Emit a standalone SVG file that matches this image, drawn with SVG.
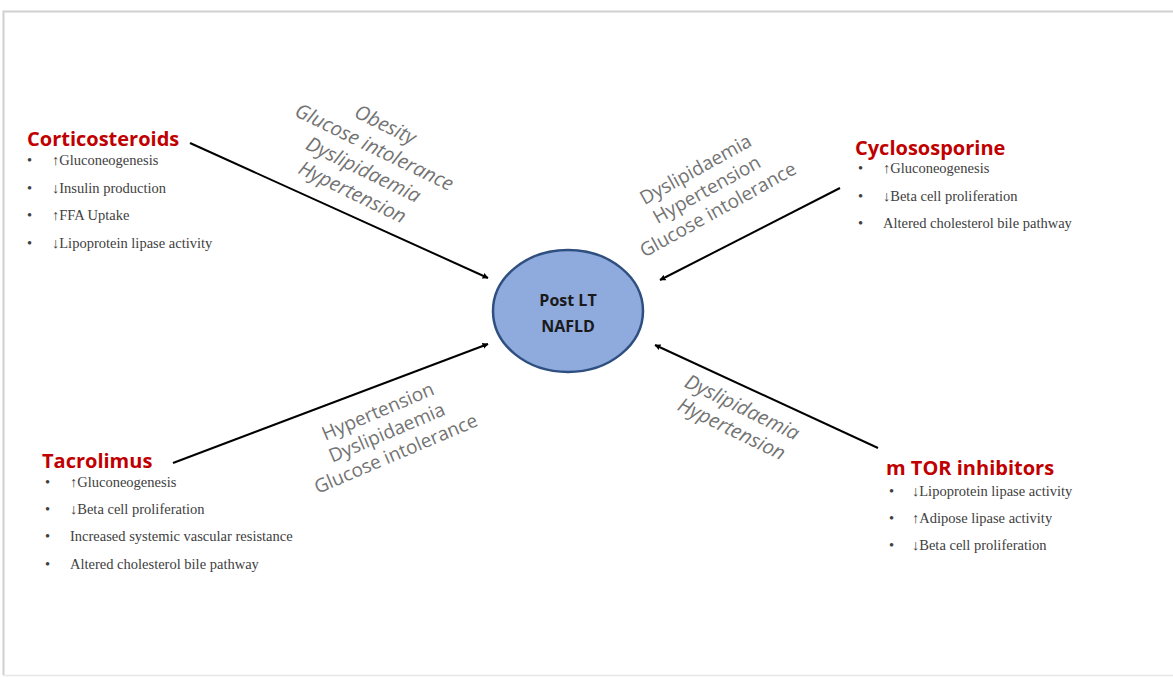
<svg xmlns="http://www.w3.org/2000/svg" width="1173" height="677" viewBox="0 0 1173 677">
<style>
.title{font-family:"Open Sans","Liberation Sans",sans-serif;font-weight:bold;font-size:20px;fill:#c00000}
.item{font-family:"Liberation Serif",serif;font-size:14.5px;fill:#404040}
.lbl{font-family:"Open Sans","Liberation Sans",sans-serif;font-size:19px;fill:#737373;text-anchor:middle}
.it{font-style:italic;font-size:20px}
.conn{stroke:#000;stroke-width:2;fill:none;marker-end:url(#ah)}
.center{font-family:"Open Sans","Liberation Sans",sans-serif;font-weight:bold;font-size:16px;fill:#1a1a1a;text-anchor:middle}
</style>
<defs>
<marker id="ah" viewBox="0 0 10 10" refX="9" refY="5" markerWidth="6" markerHeight="6" orient="auto" markerUnits="userSpaceOnUse">
<path d="M0,0 L10,5 L0,10 z" fill="#000"/>
</marker>
</defs>
<rect width="1173" height="677" fill="#fff"/>
<path d="M3.5,675 L3.5,11.5 L1173,11.5" fill="none" stroke="#d0d0d0" stroke-width="2"/>
<path d="M3,675.5 L1173,675.5" fill="none" stroke="#e6e6e6" stroke-width="1.5"/>

<g id="connectors">
<line class="conn" x1="190" y1="143" x2="488" y2="278"/>
<line class="conn" x1="840" y1="188" x2="660" y2="280"/>
<line class="conn" x1="173" y1="463" x2="488" y2="344"/>
<line class="conn" x1="878" y1="448" x2="655" y2="345"/>
</g>

<g id="center">
<ellipse cx="568" cy="311" rx="75" ry="61" fill="#8faadc" stroke="#2f4f80" stroke-width="2.5"/>
<text class="center" x="568" y="306">Post LT</text>
<text class="center" x="568" y="332">NAFLD</text>
</g>

<g id="corticosteroids">
<text class="title" x="27" y="146">Corticosteroids</text>
<g class="item">
<text x="27" y="165">•</text><text x="52" y="165">↑Gluconeogenesis</text>
<text x="27" y="193">•</text><text x="52" y="193">↓Insulin production</text>
<text x="27" y="220">•</text><text x="52" y="220">↑FFA Uptake</text>
<text x="27" y="248">•</text><text x="52" y="248">↓Lipoprotein lipase activity</text>
</g>
</g>

<g id="cyclosporine">
<text class="title" x="855" y="155">Cyclososporine</text>
<g class="item">
<text x="858" y="173">•</text><text x="883" y="173">↑Gluconeogenesis</text>
<text x="858" y="201">•</text><text x="883" y="201">↓Beta cell proliferation</text>
<text x="858" y="228">•</text><text x="883" y="228">Altered cholesterol bile pathway</text>
</g>
</g>

<g id="tacrolimus">
<text class="title" x="42" y="468">Tacrolimus</text>
<g class="item">
<text x="45" y="487">•</text><text x="70" y="487">↑Gluconeogenesis</text>
<text x="45" y="514">•</text><text x="70" y="514">↓Beta cell proliferation</text>
<text x="45" y="541">•</text><text x="70" y="541">Increased systemic vascular resistance</text>
<text x="45" y="569">•</text><text x="70" y="569">Altered cholesterol bile pathway</text>
</g>
</g>

<g id="mtor">
<text class="title" x="886" y="475">m TOR inhibitors</text>
<g class="item">
<text x="889" y="496">•</text><text x="912" y="496">↓Lipoprotein lipase activity</text>
<text x="889" y="523">•</text><text x="912" y="523">↑Adipose lipase activity</text>
<text x="889" y="550">•</text><text x="912" y="550">↓Beta cell proliferation</text>
</g>
</g>

<g id="label-cortico" transform="translate(374,148) rotate(26)">
<text class="lbl it" x="0" y="-19">Obesity</text>
<text class="lbl it" x="0" y="6">Glucose intolerance</text>
<text class="lbl it" x="0" y="31">Dyslipidaemia</text>
<text class="lbl it" x="0" y="56">Hypertension</text>
</g>

<g id="label-cyclo" transform="translate(707,190) rotate(-29)">
<text class="lbl" x="0" y="-17">Dyslipidaemia</text>
<text class="lbl" x="0" y="6">Hypertension</text>
<text class="lbl" x="0" y="29">Glucose intolerance</text>
</g>

<g id="label-tacro" transform="translate(387,433) rotate(-23)">
<text class="lbl" x="0" y="-17">Hypertension</text>
<text class="lbl" x="0" y="6">Dyslipidaemia</text>
<text class="lbl" x="0" y="29">Glucose intolerance</text>
</g>

<g id="label-mtor" transform="translate(737,418) rotate(26)">
<text class="lbl it" x="0" y="-5">Dyslipidaemia</text>
<text class="lbl it" x="0" y="19">Hypertension</text>
</g>
</svg>
